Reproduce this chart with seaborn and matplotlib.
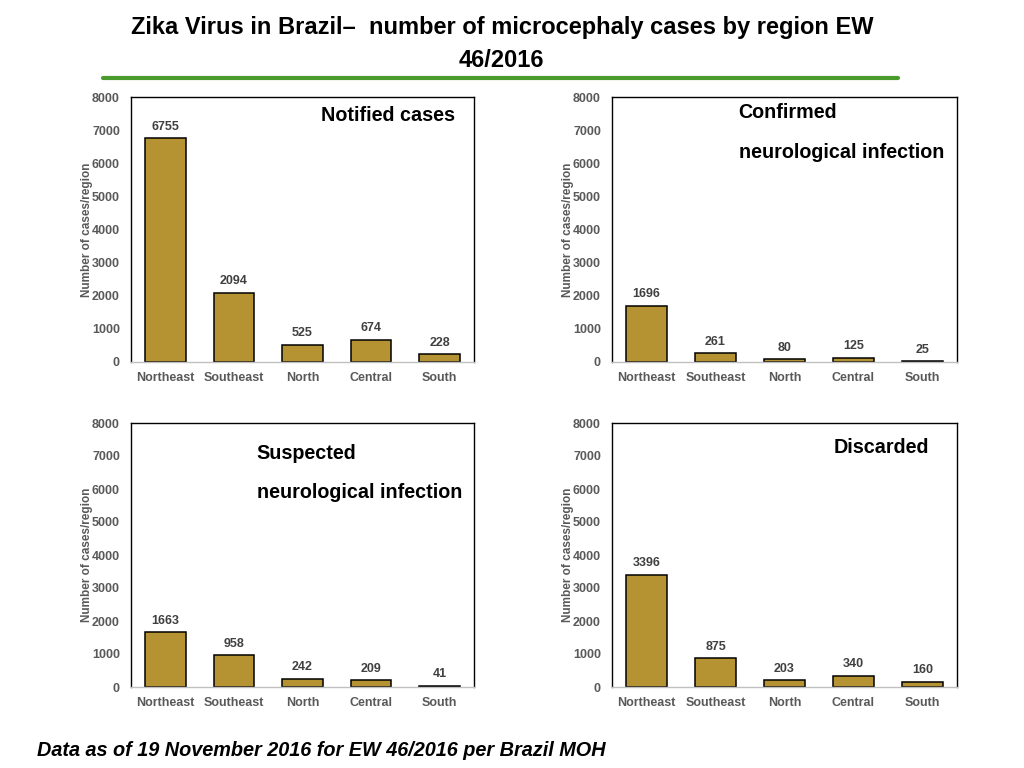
import matplotlib
matplotlib.use("Agg")
import matplotlib.pyplot as plt
import seaborn as sns
import pandas as pd
from matplotlib.lines import Line2D

sns.set_theme(style="white")
plt.rcParams['font.family'] = ['Liberation Sans', 'DejaVu Sans']
plt.rcParams['text.color'] = 'black'

regions = ["Northeast", "Southeast", "North", "Central", "South"]
notified = [6755, 2094, 525, 674, 228]
confirmed = [1696, 261, 80, 125, 25]
suspected = [1663, 958, 242, 209, 41]
discarded = [3396, 875, 203, 340, 160]
yticks = [0, 1000, 2000, 3000, 4000, 5000, 6000, 7000, 8000]

title_text = "Zika Virus in Brazil\u2013  number of microcephaly cases by region EW\n46/2016"
footer_text = "Data as of 19 November 2016 for EW 46/2016 per Brazil MOH"
ylabel_text = "Number of cases/region"

bar_color = "#B59332"
gray = "#595959"

fig = plt.figure(figsize=(10.24, 7.68), dpi=100)

W, H = 1024, 768
def ax_rect(l, t, r, b):
    return [l / W, (H - b) / H, (r - l) / W, (b - t) / H]

panels = [
    (ax_rect(131, 97, 474, 362), notified, [("Notified cases", 0.553, 0.929)]),
    (ax_rect(612, 97, 957, 362), confirmed, [("Confirmed", 0.367, 0.943), ("neurological infection", 0.367, 0.792)]),
    (ax_rect(131, 423, 474, 687), suspected, [("Suspected", 0.367, 0.886), ("neurological infection", 0.367, 0.735)]),
    (ax_rect(612, 423, 957, 687), discarded, [("Discarded", 0.641, 0.909)]),
]

for rect, vals, labels in panels:
    ax = fig.add_axes(rect)
    df = pd.DataFrame({"region": regions, "cases": vals})
    sns.barplot(data=df, x="region", y="cases", color=bar_color, saturation=1,
                edgecolor="black", linewidth=1.1, width=0.59, ax=ax)
    ax.set_xlim(-0.5, 4.5)
    ax.set_ylim(0, 8000)
    ax.set_yticks(yticks)
    ax.set_yticklabels([str(t) for t in yticks], fontsize=9, fontweight="bold", color=gray)
    ax.tick_params(axis="x", labelsize=9, labelcolor=gray, length=0, pad=7)
    ax.tick_params(axis="y", length=0, pad=8)
    for lab in ax.get_xticklabels():
        lab.set_fontweight("bold")
    ax.set_xlabel("")
    ax.set_ylabel(ylabel_text, fontsize=8.5, fontweight="bold", color=gray, labelpad=-1)
    ax.bar_label(ax.containers[0], padding=4, fontsize=9, fontweight="bold", color="#404040")
    for s in ["left", "top", "right"]:
        ax.spines[s].set_color("black")
        ax.spines[s].set_linewidth(1.0)
    ax.spines["bottom"].set_color("#c0c0c0")
    ax.spines["bottom"].set_linewidth(1.0)
    for txt, x, y in labels:
        ax.text(x, y, txt, transform=ax.transAxes, fontsize=14.2, fontweight="bold",
                color="black", ha="left", va="center")

fig.text(0.49, 0.943, title_text, ha="center", va="center", fontsize=17, fontweight="bold",
         color="black", linespacing=1.55)

fig.add_artist(Line2D([103 / W, 898 / W], [(H - 78) / H, (H - 78) / H], color="#4A9A2E",
                      linewidth=3, transform=fig.transFigure))

fig.text(37 / W, (H - 750) / H, footer_text, ha="left", va="center", fontsize=14.3,
         fontweight="bold", fontstyle="italic", color="black")

fig.savefig("out.png", dpi=100)
